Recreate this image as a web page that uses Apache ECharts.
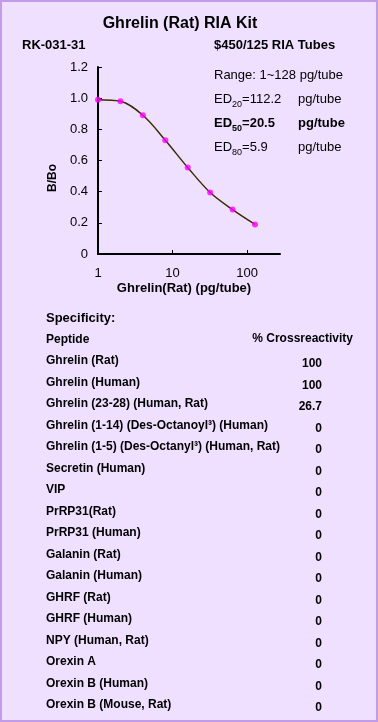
<!DOCTYPE html>
<html>
<head>
<meta charset="utf-8">
<script src="https://cdn.jsdelivr.net/npm/echarts@6/dist/echarts.min.js"></script>
<style>
  html, body { margin: 0; padding: 0; }
  #chart { width: 378px; height: 722px; }
</style>
</head>
<body>
<div id="chart"></div>
<script>
// standard curve: dose (pg/tube) vs B/Bo
const doses = [1, 2, 4, 8, 16, 32, 64, 128];
const bBo = [0.99, 0.98, 0.89, 0.73, 0.555, 0.395, 0.285, 0.19];
const xTicks = [1, 10, 100];

const peptides = [
  "Ghrelin (Rat)", "Ghrelin (Human)", "Ghrelin (23-28) (Human, Rat)",
  "Ghrelin (1-14) (Des-Octanoyl\u00b3) (Human)",
  "Ghrelin (1-5) (Des-Octanyl\u00b3) (Human, Rat)",
  "Secretin (Human)", "VIP", "PrRP31(Rat)", "PrRP31 (Human)",
  "Galanin (Rat)", "Galanin (Human)", "GHRF (Rat)", "GHRF (Human)",
  "NPY (Human, Rat)", "Orexin A", "Orexin B (Human)", "Orexin B (Mouse, Rat)"
];
const crossReactivity = [100, 100, 26.7, 0, 0, 0, 0, 0, 0, 0, 0, 0, 0, 0, 0, 0, 0];

const FONT = "'Liberation Sans', Arial, sans-serif";
const chart = echarts.init(document.getElementById("chart"));

const graphics = [
  { type: "rect", left: 0, top: 0, z: -10,
    shape: { x: 1, y: 1, width: 376, height: 720 },
    style: { fill: "#f0e0ff", stroke: "#c29ceb", lineWidth: 2 } },
  { type: "text", x: 180, y: 24, style: { text: "Ghrelin (Rat) RIA Kit", font: "bold 16px " + FONT, fill: "#000", align: "center", verticalAlign: "middle" } },
  { type: "text", x: 22, y: 45, style: { text: "RK-031-31", font: "bold 13px " + FONT, fill: "#000", verticalAlign: "middle" } },
  { type: "text", x: 214, y: 45, style: { text: "$450/125 RIA Tubes", font: "bold 13px " + FONT, fill: "#000", verticalAlign: "middle" } },
  { type: "text", x: 214, y: 75, style: { text: "Range: 1~128 pg/tube", font: "13px " + FONT, fill: "#000", verticalAlign: "middle" } },
  // axis names
  { type: "text", x: 53, y: 178, rotation: Math.PI / 2, style: { text: "B/Bo", font: "bold 12px " + FONT, fill: "#000", align: "center", verticalAlign: "middle" } },
  { type: "text", x: 184, y: 288, style: { text: "Ghrelin(Rat) (pg/tube)", font: "bold 13px " + FONT, fill: "#000", align: "center", verticalAlign: "middle" } }
];

// ED lines
const edLines = [
  { sub: "20", val: "=112.2", bold: false, y: 99 },
  { sub: "50", val: "=20.5", bold: true, y: 123 },
  { sub: "80", val: "=5.9", bold: false, y: 147 }
];
edLines.forEach(function (d) {
  const w = d.bold ? "bold " : "";
  graphics.push({
    type: "text", x: 214, y: d.y - 1,
    style: {
      text: "{a|ED}{s|" + d.sub + "}{a|" + d.val + "}",
      verticalAlign: "middle",
      rich: {
        a: { font: w + "13px " + FONT, fill: "#000", lineHeight: 16, verticalAlign: "bottom" },
        s: { font: w + "9px " + FONT, fill: "#000", lineHeight: 16, verticalAlign: "bottom", padding: [0, 0, -3, 0] }
      }
    }
  });
  graphics.push({ type: "text", x: 298, y: d.y, style: { text: "pg/tube", font: w + "13px " + FONT, fill: "#000", verticalAlign: "middle" } });
});

// specificity table
graphics.push({ type: "text", x: 46, y: 318, style: { text: "Specificity:", font: "bold 13px " + FONT, fill: "#000", verticalAlign: "middle" } });
graphics.push({ type: "text", x: 46, y: 340, style: { text: "Peptide", font: "bold 12px " + FONT, fill: "#000", verticalAlign: "middle" } });
graphics.push({ type: "text", x: 353, y: 339, style: { text: "% Crossreactivity", font: "bold 12px " + FONT, fill: "#000", align: "right", verticalAlign: "middle" } });
peptides.forEach(function (p, i) {
  const y = 361 + i * 21.5;
  graphics.push({ type: "text", x: 46, y: y, style: { text: p, font: "bold 12px " + FONT, fill: "#000", verticalAlign: "middle" } });
  graphics.push({ type: "text", x: 322, y: y + 3, style: { text: String(crossReactivity[i]), font: "bold 12px " + FONT, fill: "#000", align: "right", verticalAlign: "middle" } });
});

chart.setOption({
  backgroundColor: "#f0e0ff",
  animation: false,
  textStyle: { fontFamily: FONT },
  graphic: graphics,
  grid: { left: 98, top: 67, width: 182, height: 187, containLabel: false },
  xAxis: {
    type: "log",
    logBase: 10,
    min: 1,
    max: 277,
    axisLine: { show: true, lineStyle: { color: "#000", width: 2 } },
    axisTick: { show: true, inside: true, length: 4, lineStyle: { color: "#000", width: 1 }, customValues: xTicks },
    axisLabel: { color: "#000", fontSize: 13, margin: 13, customValues: xTicks },
    splitLine: { show: false }
  },
  yAxis: {
    type: "value",
    min: 0,
    max: 1.2,
    interval: 0.2,
    axisLine: { show: true, lineStyle: { color: "#000", width: 2 } },
    axisTick: { show: true, inside: true, length: 4, lineStyle: { color: "#000", width: 1 } },
    axisLabel: { color: "#000", fontSize: 13, margin: 10, formatter: function (v) { return v === 0 ? "0" : v.toFixed(1); } },
    splitLine: { show: false }
  },
  series: [
    {
      type: "line",
      data: doses.map(function (d, i) { return [d, bBo[i]]; }),
      smooth: 0.35,
      showSymbol: false,
      lineStyle: { color: "#3a2c00", width: 1.5 },
      z: 2
    },
    {
      type: "scatter",
      data: doses.map(function (d, i) { return [d, bBo[i]]; }),
      symbolSize: 6,
      itemStyle: { color: "#ff00ff" },
      z: 3
    }
  ]
});
</script>
</body>
</html>
